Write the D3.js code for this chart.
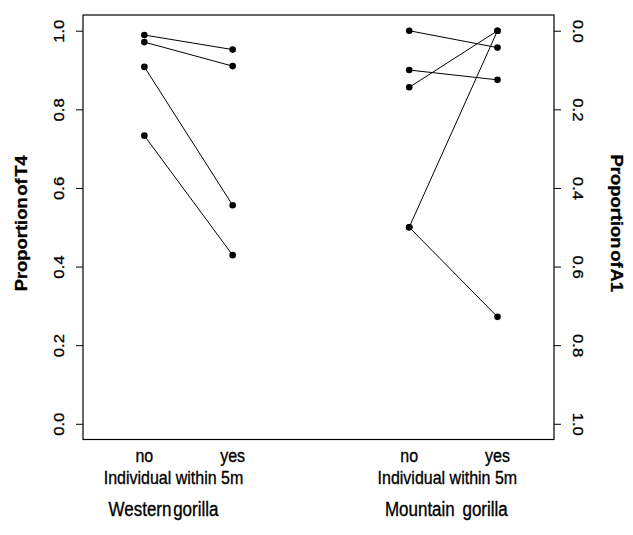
<!DOCTYPE html>
<html>
<head>
<meta charset="utf-8">
<script src="https://cdn.jsdelivr.net/npm/d3@7"></script>
<style>
  body { margin: 0; background: #fff; }
  svg text { font-family: "Liberation Sans", Arial, sans-serif; fill: #000; stroke: #000; stroke-width: 0.3px; }
</style>
</head>
<body>
<svg id="chart" width="633" height="535"></svg>
<script>
// groups on the shared x axis (position 1,2 = Western, 4,5 = Mountain)
const groups = ['Western gorilla', 'Mountain gorilla']
const conditions = ['no', 'yes']
const xLabel = 'Individual within 5m'

// Western gorilla: proportion of T4 (left axis), one pair per individual
const westernNo = [0.989, 0.971, 0.908, 0.733]
const westernYes = [0.952, 0.910, 0.556, 0.429]

// Mountain gorilla: proportion of A1 (right axis, reversed)
const mountainNo = [0.0, 0.100, 0.144, 0.5, 0.5]
const mountainYes = [0.043, 0.125, 0.0, 0.0, 0.728]

const yTicks = [0, 0.2, 0.4, 0.6, 0.8, 1.0]

// the original picture is a little taller than it was drawn, so text is stretched vertically
const stretch = 1.15

const svg = d3.select('#chart')
const box = { left: 83, right: 554, top: 15, bottom: 439.5 }

const x = d3.scaleLinear().domain([0.305, 5.64]).range([box.left, box.right])
const yLeft = d3.scaleLinear().domain([-0.04, 1.04]).range([box.bottom, box.top])
const yRight = d3.scaleLinear().domain([-0.04, 1.04]).range([box.top, box.bottom])

const groupPos = [[1, 2], [4, 5]]

// frame
svg.append('rect')
  .attr('x', box.left)
  .attr('y', box.top)
  .attr('width', box.right - box.left)
  .attr('height', box.bottom - box.top)
  .attr('fill', 'none')
  .attr('stroke', '#000')
  .attr('stroke-width', 1.2)

// left axis
const leftAxis = svg.append('g')
  .attr('transform', `translate(${box.left},0)`)
  .call(d3.axisLeft(yLeft).tickValues(yTicks).tickFormat(d3.format('.1f')).tickSize(7).tickSizeOuter(0))
leftAxis.select('.domain').remove()
leftAxis.selectAll('.tick line').attr('stroke', '#000')
leftAxis.selectAll('.tick text')
  .attr('x', 0)
  .attr('y', -19)
  .attr('dy', 0)
  .attr('transform', `scale(1,${stretch}) rotate(-90)`)
  .attr('text-anchor', 'middle')
  .style('font-size', '14.5px')

// right axis (reversed)
const rightAxis = svg.append('g')
  .attr('transform', `translate(${box.right},0)`)
  .call(d3.axisRight(yRight).tickValues(yTicks).tickFormat(d3.format('.1f')).tickSize(7).tickSizeOuter(0))
rightAxis.select('.domain').remove()
rightAxis.selectAll('.tick line').attr('stroke', '#000')
rightAxis.selectAll('.tick text')
  .attr('x', 0)
  .attr('y', -19)
  .attr('dy', 0)
  .attr('transform', `scale(1,${stretch}) rotate(90)`)
  .attr('text-anchor', 'middle')
  .style('font-size', '14.5px')

// axis titles
const midY = (box.top + box.bottom) / 2 - 4
svg.append('text')
  .attr('transform', `translate(27,${midY}) scale(1,${stretch}) rotate(-90)`)
  .attr('text-anchor', 'middle')
  .style('font-size', '16px')
  .style('font-weight', 'bold')
  .attr('word-spacing', '-3')
  .text('Proportion of T4')

svg.append('text')
  .attr('transform', `translate(611,${midY}) scale(1,${stretch}) rotate(90)`)
  .attr('text-anchor', 'middle')
  .style('font-size', '16px')
  .style('font-weight', 'bold')
  .attr('word-spacing', '-3')
  .text('Proportion of A1')

// connecting lines and points
function drawGroup (noVals, yesVals, pos, y) {
  const pairs = noVals.map((v, i) => [v, yesVals[i]])
  const g = svg.append('g')
  g.selectAll('line')
    .data(pairs)
    .enter()
    .append('line')
    .attr('x1', x(pos[0]))
    .attr('x2', x(pos[1]))
    .attr('y1', d => y(d[0]))
    .attr('y2', d => y(d[1]))
    .attr('stroke', '#000')
    .attr('stroke-width', 1)
  const pts = pairs.flatMap(d => [[pos[0], d[0]], [pos[1], d[1]]])
  g.selectAll('circle')
    .data(pts)
    .enter()
    .append('circle')
    .attr('cx', d => x(d[0]))
    .attr('cy', d => y(d[1]))
    .attr('r', 3.3)
    .attr('fill', '#000')
}
drawGroup(westernNo, westernYes, groupPos[0], yLeft)
drawGroup(mountainNo, mountainYes, groupPos[1], yRight)

// bottom labels, stretched around their baseline
function label (tx, ty, text, size, wordSpacing) {
  svg.append('text')
    .attr('transform', `translate(${tx},${ty}) scale(1,${stretch})`)
    .attr('text-anchor', 'middle')
    .style('font-size', size + 'px')
    .attr('word-spacing', wordSpacing || 0)
    .text(text)
}

groupPos.forEach((pos, gi) => {
  conditions.forEach((c, ci) => label(x(pos[ci]), 462, c, 16))
  const mid = (x(pos[0]) + x(pos[1])) / 2
  label(mid + (gi === 0 ? -15 : -6), 484, xLabel, 16)
  label(mid + (gi === 0 ? -25 : -7), 516, groups[gi], 17, gi === 0 ? -3 : 3)
})
</script>
</body>
</html>
